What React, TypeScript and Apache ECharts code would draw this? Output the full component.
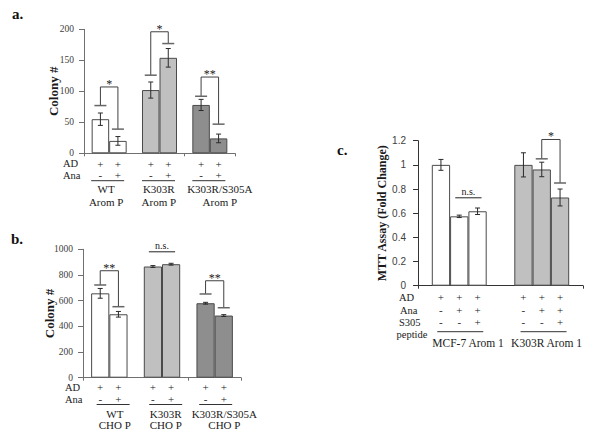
import React, { useEffect, useRef } from "react";
import * as echarts from "echarts";

// ---------- Panel a ----------
const groupsA = ["WT", "K303R", "K303R/S305A"];
const subA = "Arom P";
const colonyA_AD = [55, 102, 78];
const colonyA_ADAna = [20, 154, 24];
const errA_AD = [10, 13, 9];
const errA_ADAna = [7, 15, 7];
const sigA = ["*", "*", "**"];
const sigTopA = [107, 196, 123];
const sigLeftA = [77, 126, 92];
const sigRightA = [39, 177, 47];
const axisA = { min: 0, max: 200, interval: 50 };

// ---------- Panel b ----------
const groupsB = ["WT", "K303R", "K303R/S305A"];
const subB = "CHO P";
const colonyB_AD = [657, 866, 580];
const colonyB_ADAna = [494, 884, 484];
const errB_AD = [38, 7, 7];
const errB_ADAna = [22, 7, 7];
const sigB = ["**", "n.s.", "**"];
const sigTopB = [833, 981, 755];
const sigLeftB: (number | null)[] = [722, null, 652];
const sigRightB: (number | null)[] = [553, null, 545];
const axisB = { min: 0, max: 1000, interval: 200 };

// ---------- Panel c ----------
const groupsC = ["MCF-7 Arom 1", "K303R Arom 1"];
const mttAD = [1.0, 1.0];
const mttADAna = [0.574, 0.962];
const mttADAnaS305 = [0.616, 0.73];
const errC_AD = [0.045, 0.1];
const errC_ADAna = [0.01, 0.06];
const errC_ADAnaS305 = [0.027, 0.07];
const sigC = ["n.s.", "*"];
const sigTopC = [0.728, 1.21];
const sigLeftC: (number | null)[] = [null, 1.05];
const sigRightC: (number | null)[] = [null, 0.85];
const axisC = { min: 0, max: 1.2, interval: 0.2 };

// treatment rows (per bar)
const rowNamesAB = ["AD", "Ana"];
const rowsAB = [
  ["+", "+"],
  ["-", "+"],
];
const rowNamesC = ["AD", "Ana", "S305", "peptide"];
const rowsC = [
  ["+", "+", "+"],
  ["-", "+", "+"],
  ["-", "-", "+"],
];

const SERIF = "Liberation Serif";
const SANS = "Liberation Sans";

type Panel = {
  grid: { left: number; top: number; width: number; height: number };
  groups: string[];
  sub: string | null;
  values: number[][];
  errs: number[][];
  colors: string[];
  barWidth: number;
  axis: { min: number; max: number; interval: number };
  yName: string;
  yNameGap: number;
  yNameSize: number;
  tickFont: string;
  tickSize: number;
  tickMargin: number;
  axisColor: string;
  rows: string[][];
  rowOffsets: number[];
  underOff: number;
  underHalf: number;
  underShift: number[];
  labelOffs: number[];
  labelShift: number[];
  labelSize: number;
  rowSize: number;
  sig: string[];
  sigBars: number[][];
  sigTop: number[];
  sigLeft: (number | null)[];
  sigRight: (number | null)[];
};

const panels: Panel[] = [
  {
    grid: { left: 84, top: 29.3, width: 151, height: 124 },
    groups: groupsA,
    sub: subA,
    values: [colonyA_AD, colonyA_ADAna],
    errs: [errA_AD, errA_ADAna],
    colors: ["#ffffff", "#c0c0c0", "#8e8e8e"],
    barWidth: 17.5,
    axis: axisA,
    yName: "Colony #",
    yNameGap: 24,
    yNameSize: 13,
    tickFont: SERIF,
    tickSize: 9.5,
    tickMargin: 10,
    axisColor: "#707070",
    rows: rowsAB,
    rowOffsets: [10.7, 21.7],
    underOff: 27.4,
    underHalf: 16.5,
    underShift: [-1.5, -1, -1],
    labelOffs: [36, 48.4],
    labelShift: [-3, -0.7, 10],
    labelSize: 11,
    rowSize: 11,
    sig: sigA,
    sigBars: [[0, 1], [0, 1], [0, 1]],
    sigTop: sigTopA,
    sigLeft: sigLeftA,
    sigRight: sigRightA,
  },
  {
    grid: { left: 83, top: 249.3, width: 158, height: 128.4 },
    groups: groupsB,
    sub: subB,
    values: [colonyB_AD, colonyB_ADAna],
    errs: [errB_AD, errB_ADAna],
    colors: ["#ffffff", "#c0c0c0", "#8e8e8e"],
    barWidth: 18.2,
    axis: axisB,
    yName: "Colony #",
    yNameGap: 27,
    yNameSize: 13,
    tickFont: SERIF,
    tickSize: 9.5,
    tickMargin: 10,
    axisColor: "#707070",
    rows: rowsAB,
    rowOffsets: [9.5, 21.2],
    underOff: 26.8,
    underHalf: 16.5,
    underShift: [3.8, 3.7, 1],
    labelOffs: [35.8, 47.5],
    labelShift: [5.5, 3.7, 9.7],
    labelSize: 11,
    rowSize: 11,
    sig: sigB,
    sigBars: [[0, 1], [0, 1], [0, 1]],
    sigTop: sigTopB,
    sigLeft: sigLeftB,
    sigRight: sigRightB,
  },
  {
    grid: { left: 418, top: 140.7, width: 165, height: 145 },
    groups: groupsC,
    sub: null,
    values: [mttAD, mttADAna, mttADAnaS305],
    errs: [errC_AD, errC_ADAna, errC_ADAnaS305],
    colors: ["#ffffff", "#c0c0c0"],
    barWidth: 18.3,
    axis: axisC,
    yName: "MTT Assay (Fold Change)",
    yNameGap: 30,
    yNameSize: 12,
    tickFont: SANS,
    tickSize: 10,
    tickMargin: 12,
    axisColor: "#333333",
    rows: rowsC,
    rowOffsets: [11, 24.3, 36.6],
    underOff: 46,
    underHalf: 23,
    underShift: [1, 1.8],
    labelOffs: [57.6],
    labelShift: [8.8, 4.8],
    labelSize: 11.5,
    rowSize: 11,
    sig: sigC,
    sigBars: [[1, 2], [1, 2]],
    sigTop: sigTopC,
    sigLeft: sigLeftC,
    sigRight: sigRightC,
  },
];

function ln(x1: number, y1: number, x2: number, y2: number, stroke: string, lw: number) {
  return {
    type: "line",
    shape: { x1, y1, x2, y2 },
    style: { stroke, lineWidth: lw },
  };
}

function txt(x: number, y: number, text: string, size: number, font: string, align = "center", weight = "normal") {
  return {
    type: "text",
    x,
    y,
    style: {
      text,
      fill: "#1a1a1a",
      fontSize: size,
      fontFamily: font,
      fontWeight: weight,
      align,
      verticalAlign: "middle",
      textAlign: align,
      textVerticalAlign: "middle",
    },
  };
}

function buildPanel(p: Panel, gi: number) {
  const n = p.values.length;
  const off = (k: number) => (k - (n - 1) / 2) * p.barWidth;
  const series: any[] = [];

  p.values.forEach((vals) => {
    series.push({
      type: "bar",
      xAxisIndex: gi,
      yAxisIndex: gi,
      barWidth: p.barWidth,
      barGap: "0%",
      z: 2,
      data: vals.map((v, i) => ({
        value: v,
        itemStyle: { color: p.colors[i], borderColor: "#4a4a4a", borderWidth: 1 },
      })),
    });
  });

  // error bars
  const errData: number[][] = [];
  p.values.forEach((vals, k) =>
    vals.forEach((v, i) => errData.push([i, v, p.errs[k][i], k]))
  );
  series.push({
    type: "custom",
    xAxisIndex: gi,
    yAxisIndex: gi,
    z: 5,
    data: errData,
    renderItem: (params: any, api: any) => {
      const i = api.value(0);
      const v = api.value(1);
      const e = api.value(2);
      const k = api.value(3);
      const c = api.coord([i, v]);
      const x = c[0] + off(k);
      const yt = api.coord([i, v + e])[1];
      const yb = api.coord([i, v - e])[1];
      const col = "#2a2a2a";
      return {
        type: "group",
        children: [
          ln(x, yt, x, yb, col, 1),
          ln(x - 2.5, yt, x + 2.5, yt, col, 1),
          ln(x - 2.5, yb, x + 2.5, yb, col, 1),
        ],
      };
    },
  });

  // significance brackets
  series.push({
    type: "custom",
    xAxisIndex: gi,
    yAxisIndex: gi,
    z: 6,
    data: p.sig.map((s, i) => [i, p.sigTop[i]]),
    renderItem: (params: any, api: any) => {
      const i = params.dataIndex;
      const label = p.sig[i];
      const [ka, kb] = p.sigBars[i];
      const c = api.coord([i, p.sigTop[i]]);
      const xa = c[0] + off(ka);
      const xb = c[0] + off(kb);
      const yt = c[1];
      const ch: any[] = [];
      const lc = "#404040";
      const left = p.sigLeft[i];
      const right = p.sigRight[i];
      if (left == null || right == null) {
        ch.push(ln(xa - 4, yt, xb + 4, yt, "#555555", 1.3));
        ch.push(txt((xa + xb) / 2, yt - 6, label, 10, SERIF));
      } else {
        const yl = api.coord([i, left])[1];
        const yr = api.coord([i, right])[1];
        ch.push(ln(xa, yl, xa, yt, lc, 1));
        ch.push(ln(xa, yt, xb, yt, lc, 1));
        ch.push(ln(xb, yt, xb, yr, lc, 1));
        ch.push(ln(xa - 6, yl, xa + 6, yl, "#666666", 1.5));
        ch.push(ln(xb - 6, yr, xb + 6, yr, "#666666", 1.5));
        ch.push(txt((xa + xb) / 2, yt - 3, label, 12, SERIF));
      }
      return { type: "group", children: ch };
    },
  });

  // treatment rows, underline and group labels
  series.push({
    type: "custom",
    xAxisIndex: gi,
    yAxisIndex: gi,
    z: 6,
    data: p.groups.map((g, i) => [i, p.axis.min]),
    renderItem: (params: any, api: any) => {
      const i = params.dataIndex;
      const c = api.coord([i, p.axis.min]);
      const cx = c[0];
      const y0 = c[1];
      const ch: any[] = [];
      p.rows.forEach((row, r) => {
        row.forEach((sym, k) => {
          ch.push(txt(cx + off(k), y0 + p.rowOffsets[r], sym, p.rowSize, SERIF));
        });
      });
      const uy = y0 + p.underOff;
      const us = p.underShift[i];
      ch.push(ln(cx + us - p.underHalf, uy, cx + us + p.underHalf, uy, "#333333", 1));
      const lines = p.sub ? [p.groups[i], p.sub] : [p.groups[i]];
      lines.forEach((t, li) => {
        ch.push(txt(cx + p.labelShift[i], y0 + p.labelOffs[li], t, p.labelSize, SERIF));
      });
      return { type: "group", children: ch };
    },
  });

  const grid = { ...p.grid, containLabel: false };
  const xAxis = {
    type: "category",
    gridIndex: gi,
    data: p.groups,
    axisLine: { show: true, lineStyle: { color: p.axisColor, width: 1 } },
    axisTick: { show: true, length: 3, lineStyle: { color: p.axisColor } },
    axisLabel: { show: false },
    splitLine: { show: false },
  };
  const yAxis = {
    type: "value",
    gridIndex: gi,
    min: p.axis.min,
    max: p.axis.max,
    interval: p.axis.interval,
    name: p.yName,
    nameLocation: "middle",
    nameRotate: 90,
    nameGap: p.yNameGap,
    nameMoveOverlap: false,
    nameTextStyle: {
      fontFamily: SERIF,
      fontSize: p.yNameSize,
      fontWeight: "bold",
      color: "#1a1a1a",
    },
    axisLine: { show: true, lineStyle: { color: p.axisColor, width: 1 } },
    axisTick: { show: true, length: 5, lineStyle: { color: p.axisColor } },
    axisLabel: {
      fontFamily: p.tickFont,
      fontSize: p.tickSize,
      color: "#404040",
      margin: p.tickMargin,
      formatter: (v: number) => String(+v.toFixed(4)),
    },
    splitLine: { show: false },
  };
  return { grid, xAxis, yAxis, series };
}

export default function App() {
  const ref = useRef<HTMLDivElement>(null);
  useEffect(() => {
    if (!ref.current) return;
    const chart = echarts.init(ref.current, undefined, { renderer: "svg" });
    const built = panels.map((p, i) => buildPanel(p, i));

    const rowLabel = (x: number, y: number, t: string) => ({
      type: "text",
      left: x,
      top: y - 6,
      style: { text: t, fill: "#1a1a1a", fontSize: 10.5, fontFamily: SERIF, fontWeight: "normal" },
    });
    const panelLetter = (x: number, y: number, t: string) => ({
      type: "text",
      left: x,
      top: y - 8,
      style: { text: t, fill: "#111", fontSize: 15, fontFamily: SERIF, fontWeight: "bold" },
    });

    chart.setOption({
      animation: false,
      backgroundColor: "#ffffff",
      grid: built.map((b) => b.grid),
      xAxis: built.map((b) => b.xAxis),
      yAxis: built.map((b) => b.yAxis),
      series: built.flatMap((b) => b.series),
      graphic: [
        panelLetter(12, 14, "a."),
        panelLetter(11, 239, "b."),
        panelLetter(337, 150, "c."),
        rowLabel(63, 164, rowNamesAB[0]),
        rowLabel(63, 175.5, rowNamesAB[1]),
        rowLabel(65, 388, rowNamesAB[0]),
        rowLabel(65, 399.5, rowNamesAB[1]),
        rowLabel(399, 297.5, rowNamesC[0]),
        rowLabel(400, 310.5, rowNamesC[1]),
        rowLabel(399, 322.7, rowNamesC[2]),
        rowLabel(396.5, 335, rowNamesC[3]),
      ],
    });
    return () => chart.dispose();
  }, []);
  return (
    <div
      ref={ref}
      style={{ position: "absolute", left: 0, top: 0, width: 602, height: 443, background: "#fff" }}
    />
  );
}
